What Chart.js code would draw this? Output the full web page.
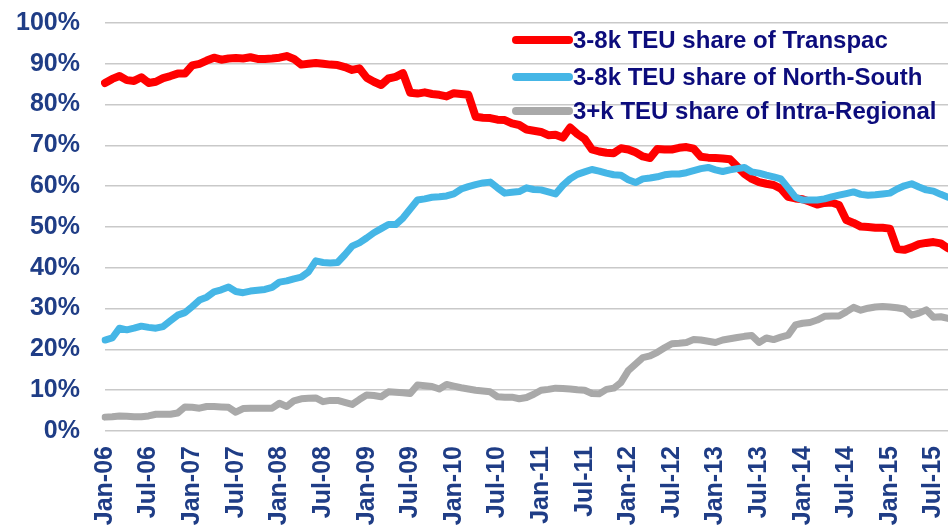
<!DOCTYPE html>
<html>
<head>
<meta charset="utf-8">
<script src="https://cdn.jsdelivr.net/npm/chart.js@4/dist/chart.umd.min.js"></script>
<style>
  html, body { margin: 0; padding: 0; background: #ffffff; }
  #wrap { width: 948px; height: 529px; }
</style>
</head>
<body>
<div id="wrap"><canvas id="myChart" width="948" height="529"></canvas></div>
<script>
// monthly shares (%), Jan-06 .. Sep-15
var transpac = [
  85.3, 86.3, 87.0, 86.0, 85.8, 86.7, 85.3, 85.6, 86.5, 87.0, 87.6, 87.6,
  89.6, 90.0, 90.8, 91.5, 91.0, 91.3, 91.4, 91.3, 91.6, 91.2, 91.2, 91.3,
  91.5, 91.9, 91.2, 89.8, 90.0, 90.2, 90.0, 89.8, 89.7, 89.2, 88.5, 88.9,
  86.6, 85.6, 84.8, 86.4, 86.8, 87.7, 82.9, 82.7, 83.0, 82.6, 82.4, 82.0,
  82.8, 82.6, 82.4, 77.0, 76.8, 76.7, 76.3, 76.2, 75.4, 75.0, 73.9, 73.6,
  73.3, 72.5, 72.6, 71.9, 74.4, 72.8, 71.6, 69.0, 68.5, 68.2, 68.1, 69.3,
  69.0, 68.3, 67.3, 66.9, 69.1, 69.0, 69.0, 69.4, 69.6, 69.2, 67.2, 67.0,
  66.9, 66.8, 66.6, 64.8, 63.0, 61.8, 61.0, 60.6, 60.3, 59.4, 57.4, 57.0,
  56.8, 56.2, 55.5, 55.9, 56.0, 55.4, 51.7, 51.0, 50.1, 50.0, 49.8, 49.8,
  49.6, 44.6, 44.4, 45.0, 45.8, 46.1, 46.3, 46.0, 44.8
];
var northSouth = [
  22.3, 22.8, 25.2, 24.8, 25.2, 25.7, 25.4, 25.2, 25.6, 27.0, 28.4, 29.0,
  30.5, 32.1, 32.8, 34.1, 34.6, 35.3, 34.2, 33.9, 34.3, 34.5, 34.7, 35.2,
  36.5, 36.8, 37.3, 37.7, 39.0, 41.7, 41.3, 41.2, 41.3, 43.2, 45.3, 46.1,
  47.3, 48.6, 49.6, 50.6, 50.6, 52.2, 54.4, 56.6, 56.9, 57.3, 57.4, 57.6,
  58.1, 59.3, 59.9, 60.4, 60.8, 61.0, 59.6, 58.3, 58.5, 58.7, 59.6, 59.2,
  59.1, 58.6, 58.1, 60.2, 61.8, 62.9, 63.5, 64.1, 63.7, 63.2, 62.8, 62.7,
  61.6, 60.9, 61.8, 62.0, 62.3, 62.8, 63.0, 63.0, 63.3, 63.8, 64.3, 64.6,
  64.0, 63.6, 64.0, 64.3, 64.6, 63.5, 63.2, 62.7, 62.3, 61.8, 59.6, 57.3,
  56.6, 56.6, 56.6, 56.9, 57.4, 57.8, 58.2, 58.6, 58.0, 57.8, 57.9, 58.1,
  58.3, 59.3, 60.1, 60.6, 59.8, 59.1, 58.8, 58.0, 57.3
];
var intraRegional = [
  3.4, 3.5, 3.7, 3.6, 3.5, 3.5, 3.7, 4.1, 4.1, 4.1, 4.4, 5.9,
  5.8, 5.6, 6.0, 6.0, 5.9, 5.8, 4.6, 5.5, 5.6, 5.6, 5.6, 5.6,
  6.8, 6.0, 7.4, 7.9, 8.0, 8.1, 7.2, 7.5, 7.5, 7.0, 6.5, 7.7,
  8.8, 8.7, 8.4, 9.6, 9.5, 9.4, 9.2, 11.3, 11.1, 10.9, 10.3, 11.4,
  11.0, 10.6, 10.3, 10.0, 9.8, 9.6, 8.4, 8.3, 8.3, 7.9, 8.2, 9.0,
  10.0, 10.2, 10.5, 10.4, 10.3, 10.1, 10.0, 9.2, 9.1, 10.2, 10.5, 11.9,
  14.8, 16.4, 18.0, 18.4, 19.3, 20.4, 21.4, 21.5, 21.7, 22.4, 22.3, 22.0,
  21.7, 22.3, 22.6, 22.9, 23.2, 23.4, 21.7, 22.8, 22.4, 23.0, 23.5, 26.0,
  26.4, 26.6, 27.2, 28.1, 28.2, 28.2, 29.2, 30.3, 29.6, 30.1, 30.4, 30.5,
  30.4, 30.2, 29.9, 28.4, 28.9, 29.7, 27.9, 28.0, 27.6
];
var seriesNames = [
  '3-8k TEU share of Transpac',
  '3-8k TEU share of North-South',
  '3+k TEU share of Intra-Regional'
];
var monthNames = ['Jan', 'Feb', 'Mar', 'Apr', 'May', 'Jun', 'Jul', 'Aug', 'Sep', 'Oct', 'Nov', 'Dec'];
var firstYear = 2006;
var yTicks = [0, 10, 20, 30, 40, 50, 60, 70, 80, 90, 100];

var months = [];
for (var i = 0; i < transpac.length; i++) {
  var yr = firstYear + Math.floor(i / 12);
  months.push(monthNames[i % 12] + '-' + String(yr).slice(2));
}

var tickColor = '#1f3d86';
var legendColor = '#0c0c7c';
var colors = ['#ff0000', '#45b6e6', '#a9a9a9'];

// legend drawn inside the plot, top right
var innerLegend = {
  id: 'innerLegend',
  afterDraw: function(chart) {
    var ctx = chart.ctx;
    var rows = [40, 77, 111];
    ctx.save();
    ctx.font = 'bold 24px "Liberation Sans", Arial, sans-serif';
    ctx.textBaseline = 'middle';
    ctx.lineCap = 'round';
    for (var k = 0; k < chart.data.datasets.length; k++) {
      var ds = chart.data.datasets[k];
      ctx.strokeStyle = ds.borderColor;
      ctx.lineWidth = 8;
      ctx.beginPath();
      ctx.moveTo(516, rows[k]);
      ctx.lineTo(569, rows[k]);
      ctx.stroke();
      ctx.fillStyle = legendColor;
      ctx.fillText(ds.label, 573, rows[k] + 1);
    }
    ctx.restore();
  }
};

var ctx = document.getElementById('myChart').getContext('2d');
var myChart = new Chart(ctx, {
  type: 'line',
  data: {
    labels: months,
    datasets: [{
      label: seriesNames[0],
      data: transpac,
      borderColor: colors[0],
      borderWidth: 8,
      order: 3
    }, {
      label: seriesNames[1],
      data: northSouth,
      borderColor: colors[1],
      borderWidth: 7,
      order: 2
    }, {
      label: seriesNames[2],
      data: intraRegional,
      borderColor: colors[2],
      borderWidth: 7,
      order: 1
    }]
  },
  options: {
    responsive: false,
    animation: false,
    devicePixelRatio: 1,
    layout: { padding: { top: 23, right: 0, left: 0, bottom: 0 } },
    elements: {
      point: { radius: 0 },
      line: { tension: 0, fill: false, borderJoinStyle: 'round', borderCapStyle: 'round' }
    },
    plugins: {
      legend: { display: false },
      tooltip: { enabled: false }
    },
    scales: {
      x: {
        offset: false,
        grid: { display: false, drawTicks: false },
        border: { display: false },
        ticks: {
          autoSkip: false,
          maxRotation: 90,
          minRotation: 90,
          padding: 15,
          color: tickColor,
          font: { family: '"Liberation Sans", Arial, sans-serif', size: 25, weight: 'bold' },
          callback: function(v, idx) {
            return idx % 6 === 0 ? months[idx] : '';
          }
        },
        afterFit: function(scale) {
          scale.height = 98;
          scale.paddingLeft = 0;
          scale.paddingRight = 0;
        }
      },
      y: {
        min: yTicks[0],
        max: yTicks[yTicks.length - 1],
        grid: { color: '#c9c9c9', lineWidth: 1.5, drawTicks: false },
        border: { display: false },
        ticks: {
          stepSize: 10,
          padding: 25,
          color: tickColor,
          font: { family: '"Liberation Sans", Arial, sans-serif', size: 25, weight: 'bold' },
          callback: function(v) { return v + '%'; }
        },
        afterFit: function(scale) {
          scale.width = 105;
          scale.paddingTop = 0;
          scale.paddingBottom = 0;
        }
      }
    }
  },
  plugins: [innerLegend]
});
</script>
</body>
</html>
